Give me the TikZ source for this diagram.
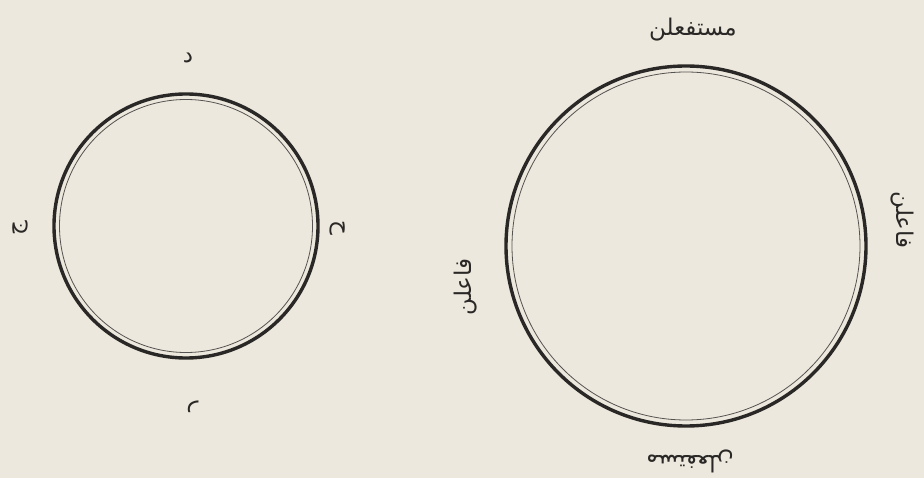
\documentclass[tikz,border=0pt]{standalone}
\usepackage{fontspec}
\TeXXeTstate=1
\newfontfamily\arabicfont[Script=Arabic]{DejaVu Sans}
\definecolor{paper}{HTML}{EDE8DD}
\definecolor{ink}{HTML}{2A2826}
\begin{document}
\begin{tikzpicture}[x=1pt,y=-1pt,
  outer/.style={draw=ink,line width=3.4pt},
  inner/.style={draw=ink!80,line width=0.8pt},
  lab/.style={text=ink,inner sep=0pt,font=\arabicfont\fontsize{23}{26}\selectfont}]
\fill[paper] (0,0) rectangle (924,478);
\useasboundingbox (0,0) rectangle (924,478);
% left circle
\coordinate (c1) at (186,226);
\draw[outer] (c1) circle[radius=132];
\draw[inner] (c1) circle[radius=126.5];
\node[lab] (d) at (188,58) {\beginR د\endR};
\node[lab,rotate=-90] (h) at (338,228) {\beginR ح\endR};
\node[lab,rotate=180] (r) at (192,407) {\beginR ر\endR};
\node[lab,rotate=90] (j) at (20,228) {\beginR ج\endR};
% right circle
\coordinate (c2) at (686,246);
\draw[outer] (c2) circle[radius=180];
\draw[inner] (c2) circle[radius=174];
\node[lab] (t) at (693,30) {\beginR مستفعلن\endR};
\node[lab,rotate=-90] (e) at (902,220) {\beginR فاعلن\endR};
\node[lab,rotate=90] (w) at (466,287) {\beginR فاعلن\endR};
\node[lab,rotate=180] (b) at (690,461) {\beginR مستفعلن\endR};
\end{tikzpicture}
\end{document}
